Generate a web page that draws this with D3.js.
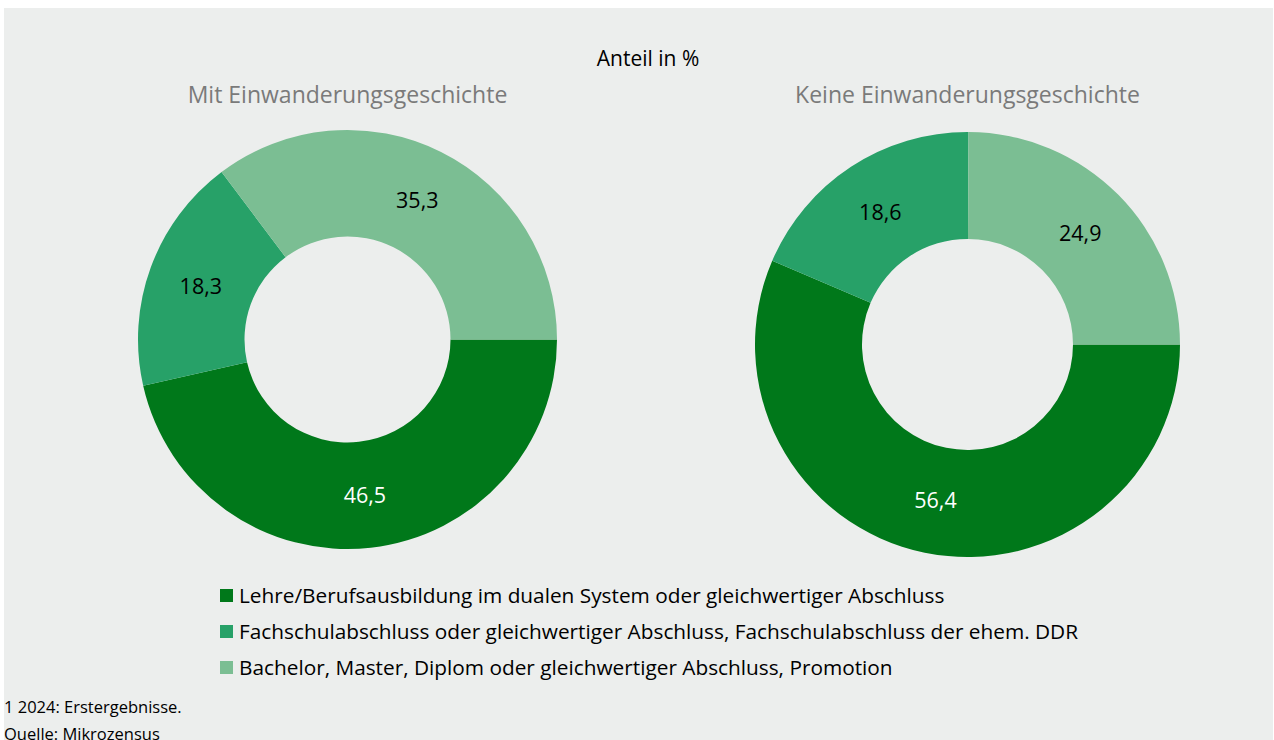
<!DOCTYPE html>
<html><head><meta charset="utf-8">
<script src="https://cdn.jsdelivr.net/npm/d3@7"></script>
<style>
html,body{margin:0;padding:0;background:#fff;}
svg{display:block;}
text{font-family:"Open Sans","Noto Sans",sans-serif;}
</style></head>
<body>
<svg id="chart" width="1274" height="740"></svg>
<script>
const categories = [
  "Lehre/Berufsausbildung im dualen System oder gleichwertiger Abschluss",
  "Fachschulabschluss oder gleichwertiger Abschluss, Fachschulabschluss der ehem. DDR",
  "Bachelor, Master, Diplom oder gleichwertiger Abschluss, Promotion"
];
const groups = ["Mit Einwanderungsgeschichte", "Keine Einwanderungsgeschichte"];
const valuesMit = [46.5, 18.3, 35.3];
const valuesKeine = [56.4, 18.6, 24.9];
const colors = ["#00781a", "#27a168", "#7bbe93"];
const labelColors = ["#ffffff", "#000000", "#000000"];
const subtitle = "Anteil in %";
const footnotes = ["1 2024: Erstergebnisse.", "Quelle: Mikrozensus"];

const svg = d3.select("#chart");
svg.append("rect").attr("x",4).attr("y",8).attr("width",1269).attr("height",740).attr("fill","#eceeed");

svg.append("text").attr("x",648).attr("y",66).attr("text-anchor","middle")
  .attr("font-size",21).attr("fill","#000").text(subtitle);

const fmt = v => d3.format(".1f")(v).replace(".", ",");
const pies = [
  {title: groups[0], values: valuesMit, cx: 347.5, cy: 339.5, r: 209.5, ri: 103},
  {title: groups[1], values: valuesKeine, cx: 967.5, cy: 344.5, r: 212.5, ri: 105.5}
];
const pie = d3.pie().sort(null).value(d => d)
  .startAngle(Math.PI/2).endAngle(Math.PI/2 + 2*Math.PI);

pies.forEach(p => {
  svg.append("text").attr("x", p.cx).attr("y", 103).attr("text-anchor","middle")
    .attr("font-size",23).attr("fill","#7a7a7a").text(p.title);
  const g = svg.append("g").attr("transform",`translate(${p.cx},${p.cy})`);
  const arc = d3.arc().innerRadius(p.ri).outerRadius(p.r);
  const arcs = pie(p.values);
  g.selectAll("path").data(arcs).join("path")
    .attr("d", arc).attr("fill", (d,i) => colors[i]);
  g.selectAll("text").data(arcs).join("text")
    .attr("transform", d => `translate(${arc.centroid(d)})`)
    .attr("text-anchor","middle").attr("dy","0.38em")
    .attr("font-size",21.5).attr("fill",(d,i)=>labelColors[i])
    .text(d => fmt(d.data));
});

const leg = svg.append("g");
categories.forEach((c,i) => {
  const y = 596 + i*36;
  leg.append("rect").attr("x",220).attr("y",y-7).attr("width",13).attr("height",13).attr("fill",colors[i]);
  leg.append("text").attr("x",239).attr("y",y).attr("dy","0.35em")
    .attr("font-size",20.8).attr("fill","#000").text(c);
});

footnotes.forEach((f,i) => {
  svg.append("text").attr("x",4).attr("y",713 + i*27)
    .attr("font-size",16.5).attr("fill","#000").text(f);
});
</script>
</body></html>
